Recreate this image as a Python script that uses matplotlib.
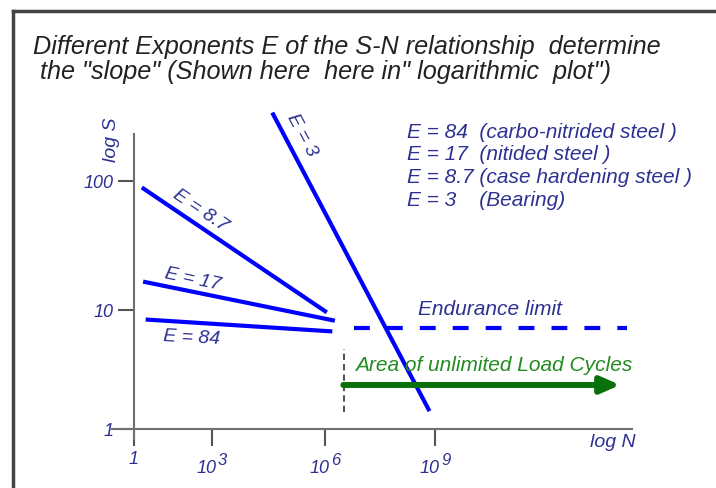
import matplotlib
matplotlib.use('Agg')
import matplotlib.pyplot as plt
import matplotlib.transforms as mtransforms
import numpy as np
from matplotlib.lines import Line2D

plt.rcParams['font.family'] = ['Liberation Sans', 'DejaVu Sans']
plt.rcParams['font.style'] = 'italic'

# ---- data (log10 N, log10 S) ----
exps = ['8.7', '17', '84', '3']
logn_start = [0.3, 0.35, 0.45, 4.6]
logn_end = [6.05, 6.27, 6.2, 8.85]
logs_start = [1.95, 1.22, 0.92, 2.53]
logs_end = [0.98, 0.91, 0.82, 0.15]

endur_logn = [6.8, 14.25]   # endurance limit (dashed)
endur_logs = 0.85
area_logn = [6.5, 14.05]    # green arrow
area_logs = 0.37
limit_logn = 6.52           # grey dashed marker
limit_logs = [0.14, 0.67]

xtick_vals = [0, 3, 6, 9]
xtick_labels = ['1', '10^3', '10^6', '10^9']
ytick_vals = [0, 1, 2]
ytick_labels = ['1', '10', '100']

legend_lines = ['E = 84  (carbo-nitrided steel )',
                'E = 17  (nitided steel )',
                'E = 8.7 (case hardening steel )',
                'E = 3    (Bearing)']

navy = '#2d3091'
blue = '#0000ff'
green = '#0a700a'
grey = '#707070'

W, H = 716, 489

# the sketch is not to scale : decades are spaced unevenly -> piecewise scale
xk = [-6, 0, 3, 6, 9, 20]
xk_px = [-22, 134, 212, 325, 435, 838.3]
yk = [-5, 0, 1, 2, 6]
yk_px = [-536, 59, 178, 307, 823]

def fx(v): return np.interp(v, xk, xk_px)
def ifx(p): return np.interp(p, xk_px, xk)
def fy(v): return np.interp(v, yk, yk_px)
def ify(p): return np.interp(p, yk_px, yk)

def px(x, y):
    return x / W, 1 - y / H

fig = plt.figure(figsize=(W / 100, H / 100), dpi=100)
ax = fig.add_axes([0, 0, 1, 1])
ax.patch.set_alpha(0)
ax.set_xscale('function', functions=(fx, ifx))
ax.set_yscale('function', functions=(fy, ify))
ax.set_xlim(ifx(0), ifx(W))
ax.set_ylim(ify(0), ify(H))

for s in ['top', 'right']:
    ax.spines[s].set_visible(False)
ax.spines['left'].set_position(('data', 0))
ax.spines['bottom'].set_position(('data', 0))
ax.spines['left'].set_bounds(-0.084, 2.364)
ax.spines['bottom'].set_bounds(-0.85, 14.37)
for s in ['left', 'bottom']:
    ax.spines[s].set_color(grey)
    ax.spines[s].set_linewidth(1.5)

ax.set_xticks(xtick_vals)
ax.set_xticklabels([])
ax.set_yticks(ytick_vals)
ax.set_yticklabels(ytick_labels)
ax.minorticks_off()
ax.tick_params(axis='x', direction='out', length=12, width=1.5, color='#555555')
ax.tick_params(axis='y', direction='out', length=11.5, width=1.5, color='#555555',
               pad=3.5, labelsize=13, labelcolor=navy)

# x tick labels : "10" with a big raised exponent, like the sketch
xt = mtransforms.blended_transform_factory(ax.transData, fig.transFigure)
for v, lab in zip(xtick_vals, xtick_labels):
    if '^' not in lab:
        ax.text(v, 1 - 460 / H, lab, transform=xt, ha='center', va='center',
                fontsize=13, color=navy)
        continue
    base, ex = lab.split('^')
    off = mtransforms.ScaledTranslation(5 / 100, 0, fig.dpi_scale_trans)
    ax.text(v, 1 - 469 / H, base, transform=xt + off, ha='right', va='center',
            fontsize=13, color=navy)
    off = mtransforms.ScaledTranslation(6 / 100, 0, fig.dpi_scale_trans)
    ax.text(v, 1 - 461 / H, ex, transform=xt + off, ha='left', va='center',
            fontsize=12, color=navy)

# S-N lines
for i in range(len(exps)):
    ax.plot([logn_start[i], logn_end[i]], [logs_start[i], logs_end[i]],
            color=blue, lw=3, solid_capstyle='butt')

ax.plot(endur_logn, [endur_logs, endur_logs], color=blue, lw=3,
        linestyle=(0, (3.8, 4.1)))
ax.plot([limit_logn, limit_logn], limit_logs, color='#555555', lw=1.5,
        linestyle=(0, (3, 2)))
ax.annotate('', xy=(area_logn[1], area_logs), xytext=(area_logn[0], area_logs),
            arrowprops=dict(arrowstyle='-|>,head_length=0.75,head_width=0.33',
                            mutation_scale=15, lw=4.3, color=green,
                            shrinkA=0, shrinkB=0))

# labels on lines
lab_pos = [(200, 211, -34), (193, 280, -12), (192, 338, -3), (302, 135, -62)]
for e, (x, y, r) in zip(exps, lab_pos):
    fig.text(*px(x, y), 'E = ' + e, rotation=r, rotation_mode='anchor',
             ha='center', va='center', fontsize=14, color=navy)

fig.text(*px(112, 140), 'log S', rotation=90, ha='center', va='center',
         fontsize=14, color=navy)
fig.text(*px(613, 443), 'log N', ha='center', va='center', fontsize=14, color=navy)
fig.text(*px(418, 310), 'Endurance limit', ha='left', va='center', fontsize=15, color=navy)
fig.text(*px(355, 366), 'Area of unlimited Load Cycles', ha='left', va='center',
         fontsize=15, color='#228b22')

for k, t in enumerate(legend_lines):
    fig.text(*px(407, 132 + 22.8 * k), t, ha='left', va='center', fontsize=15, color=navy)

fig.text(*px(33, 47), 'Different Exponents E of the S-N relationship  determine',
         ha='left', va='center', fontsize=18.2, color='#222222')
fig.text(*px(33, 72), ' the "slope" (Shown here  here in" logarithmic  plot")',
         ha='left', va='center', fontsize=18.2, color='#222222')

# frame
fig.add_artist(Line2D([13 / W, 1], [1 - 12 / H] * 2, color='#444444', lw=2.5))
fig.add_artist(Line2D([13 / W] * 2, [0, 1 - 12 / H], color='#444444', lw=2.5))

fig.savefig('out.png', dpi=100)
